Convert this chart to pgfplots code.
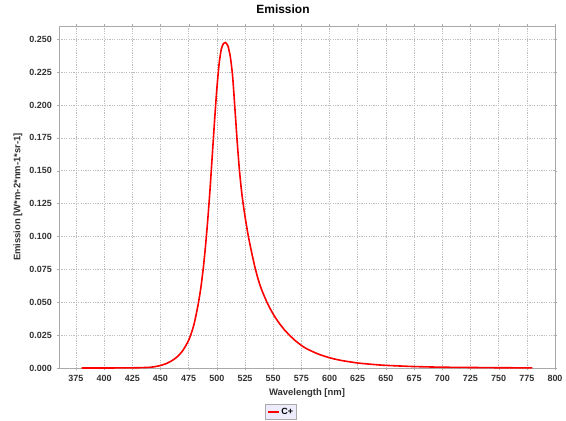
\documentclass[border=0pt]{standalone}
\usepackage{fontspec}
\setmainfont{Liberation Sans}
\usepackage{pgfplots}
\pgfplotsset{compat=1.18}

\definecolor{gridgray}{RGB}{190,190,190}
\definecolor{framegray}{RGB}{170,170,170}
\definecolor{ticktext}{RGB}{50,50,50}
\definecolor{legendbg}{RGB}{236,236,252}

\begin{document}
\begin{tikzpicture}
\useasboundingbox (-59bp,-53bp) rectangle (507bp,368bp);
\begin{axis}[
  at={(0,0)}, anchor=south west,
  scale only axis,
  width=496bp, height=342bp,
  xmin=360, xmax=800,
  ymin=0, ymax=0.26,
  xtick={375,400,...,800},
  ytick={0,0.025,...,0.26},
  /pgf/number format/assume math mode=true,
  yticklabel style={/pgf/number format/fixed, /pgf/number format/fixed zerofill,
    /pgf/number format/precision=3},
  scaled y ticks=false,
  tick label style={font=\fontsize{9}{10}\selectfont\bfseries, text=ticktext},
  xticklabel style={inner sep=0pt, yshift=-5bp},
  yticklabel style={inner sep=0pt, xshift=-5bp},
  tick align=outside,
  major tick length=2bp,
  tick style={framegray},
  axis line style={framegray},
  grid=major,
  major grid style={gridgray, line width=0.5bp, dash pattern=on 1.2bp off 1.2bp},
  title={Emission},
  title style={at={(axis description cs:0.4516,1.033)}, anchor=center,
    font=\fontsize{12}{13}\selectfont\bfseries},
  xlabel={Wavelength [nm]},
  ylabel={Emission [W*m-2*nm-1*sr-1]},
  every axis x label/.style={at={(axis description cs:0.5,-0.0731)}, anchor=center,
    font=\fontsize{9.5}{11}\selectfont\bfseries, text=ticktext},
  every axis y label/.style={at={(axis description cs:-0.0827,0.5)}, rotate=90, anchor=center,
    font=\fontsize{9.5}{11}\selectfont\bfseries, text=ticktext},
  legend style={at={(axis description cs:0.4476,-0.1287)}, anchor=center,
    fill=legendbg, draw=framegray, font=\fontsize{9}{10}\selectfont\bfseries,
    inner sep=1.5bp},
  legend cell align=left,
  legend image code/.code={\draw[#1] (0bp,0bp) -- (11bp,0bp);},
]
\addplot[red, line width=1.6bp, smooth, tension=0.4] coordinates {
(380,0) (400,0) (420,0.0001) (430,0.0002) (440,0.0005) (445,0.001)
(450,0.0019) (455,0.0033) (460,0.0055) (465,0.0086) (470,0.0135)
(475,0.021) (478,0.028) (480,0.034) (482,0.042) (484,0.051) (486,0.062)
(488,0.076) (490,0.093) (492,0.113) (494,0.136) (496,0.162) (498,0.188)
(500,0.212) (502,0.231) (504,0.2425) (506,0.2468) (507.7,0.2475)
(509,0.2462) (510,0.2445) (512,0.2365) (514,0.222) (516,0.198) (518,0.173)
(520,0.151) (522,0.134) (524,0.121) (526,0.110) (528,0.100) (530,0.0915)
(532,0.0835) (534,0.076) (537,0.0665) (540,0.059) (545,0.049) (550,0.041)
(555,0.0345) (560,0.029) (565,0.0245) (570,0.0205) (575,0.0172)
(580,0.0145) (590,0.0106) (600,0.0078) (610,0.0058) (625,0.0038)
(640,0.0026) (650,0.002) (675,0.0011) (700,0.0006) (725,0.0004)
(750,0.0002) (780,0.0001)
};
\addlegendentry{C+}
\end{axis}
\end{tikzpicture}
\end{document}
